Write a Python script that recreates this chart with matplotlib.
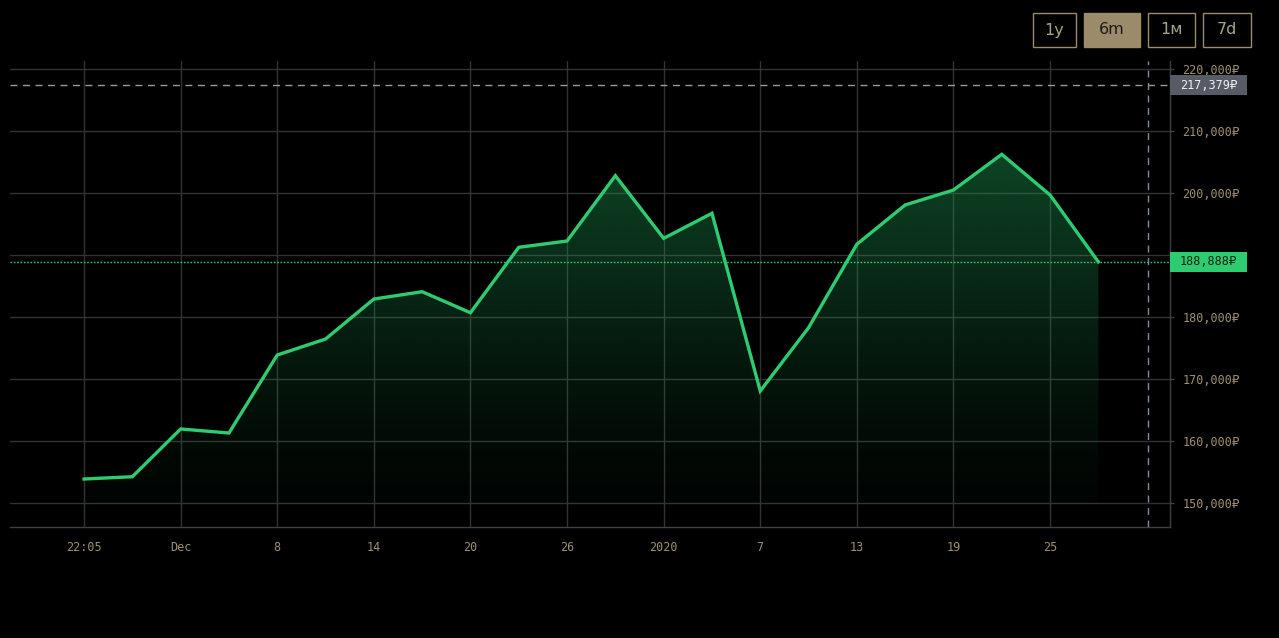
import numpy as np
import matplotlib
matplotlib.use("Agg")
import matplotlib.pyplot as plt
from matplotlib.patches import Rectangle, Polygon

# ---- data ----
days = [0, 3, 6, 9, 12, 15, 18, 21, 24, 27, 30, 33, 36, 39, 42, 45, 48, 51, 54, 57, 60, 63]
prices = [153870, 154240, 161940, 161290, 173870, 176450, 182900, 184080, 180690,
          191240, 192260, 202790, 192690, 196730, 168070, 178270, 191730, 198070,
          200480, 206240, 199680, 188888]
tick_days = [0, 6, 12, 18, 24, 30, 36, 42, 48, 54, 60]
tick_labels = ["22:05", "Dec", "8", "14", "20", "26", "2020", "7", "13", "19", "25"]
y_ticks = [150000, 160000, 170000, 180000, 190000, 200000, 210000, 220000]
crosshair_day = 66.1
crosshair_price = 217379
last_price = 188888
buttons = ["1y", "6m", "1м", "7d"]
active_button = "6m"

# ---- style ----
BG = "#000000"
GRID = "#333333"
SPINE = "#404040"
TICK = "#a08f70"
GREEN = "#2ecc71"
TAN = "#9c8b6a"
MONO = ["DejaVu Sans Mono", "DejaVu Sans"]

W, H = 1279, 638
fig = plt.figure(figsize=(W / 100, H / 100), dpi=100, facecolor=BG)
ax = fig.add_axes([10 / W, 1 - 527 / H, (1170 - 10) / W, (527 - 61) / H])
ax.set_facecolor(BG)

xmin, xmax = -4.6, 67.45
ymin, ymax = 146130, 221290
ax.set_xlim(xmin, xmax)
ax.set_ylim(ymin, ymax)

# grid
ax.set_axisbelow(True)
for d in tick_days:
    ax.axvline(d, color=GRID, lw=1.0, zorder=0)
for v in y_ticks:
    ax.axhline(v, color=GRID, lw=1.0, zorder=0)

# gradient fill
base = 150000
poly_xy = [(days[0], base)] + list(zip(days, prices)) + [(days[-1], base)]
poly = Polygon(poly_xy, closed=True, facecolor="none", edgecolor="none")
ax.add_patch(poly)
top = max(prices)
n = 256
grad = np.zeros((n, 1, 4))
t = np.linspace(0, 1, n)  # 0 bottom -> 1 top
grad[:, 0, 0] = 0.12
grad[:, 0, 1] = 0.60
grad[:, 0, 2] = 0.33
grad[:, 0, 3] = 0.03 + 0.42 * t ** 1.3
img = ax.imshow(grad, extent=[days[0], days[-1], base, top], origin="lower",
                aspect="auto", zorder=1, interpolation="bilinear")
img.set_clip_path(poly)

# line
ax.plot(days, prices, color=GREEN, lw=2.4, zorder=3, solid_joinstyle="miter")

# last price dotted line
ax.axhline(last_price, color=GREEN, lw=1.0, ls=(0, (1.2, 1.2)), zorder=2)

# crosshair
ax.axhline(crosshair_price, color="#9a9a9a", lw=1.0, ls=(0, (5, 4)), zorder=2)
ax.axvline(crosshair_day, color="#7f8da0", lw=1.0, ls=(0, (5, 4)), zorder=2)

# spines
for s in ["top", "left"]:
    ax.spines[s].set_visible(False)
for s in ["bottom", "right"]:
    ax.spines[s].set_color(SPINE)
    ax.spines[s].set_linewidth(1.0)

# ticks
ax.set_xticks(tick_days)
ax.set_xticklabels(tick_labels)
ax.tick_params(axis="x", length=0, pad=10, labelcolor=TICK, labelsize=8.5)
ax.yaxis.tick_right()
ax.set_yticks(y_ticks)
ax.set_yticklabels([f"{v:,}₽" for v in y_ticks])
ax.tick_params(axis="y", length=3, width=1, color=SPINE, pad=6, labelcolor=TICK, labelsize=8.5)
for lab in ax.get_xticklabels() + ax.get_yticklabels():
    lab.set_family(MONO)
for lab, v in zip(ax.get_yticklabels(), y_ticks):
    if v == 190000:
        lab.set_visible(False)

# price boxes on right axis
def price_box(value, face, textcolor):
    pos = ax.get_position()
    fy = pos.y0 + (value - ymin) / (ymax - ymin) * pos.height
    bh = 20 / H
    fig.patches.append(Rectangle((1170 / W, fy - bh / 2), 77 / W, bh,
                                 transform=fig.transFigure, facecolor=face,
                                 edgecolor="none", zorder=5))
    fig.text(1180 / W, fy, f"{value:,}₽", color=textcolor, fontsize=8.5,
             family=MONO, va="center", ha="left", zorder=6)

price_box(crosshair_price, "#565b66", "#f0f0f0")
price_box(last_price, GREEN, "#0b2416")

# buttons
btn_x = [1033, 1084, 1148, 1203]
btn_w = [43, 56, 47, 48]
for label, bx, bw in zip(buttons, btn_x, btn_w):
    active = label == active_button
    fig.patches.append(Rectangle((bx / W, 1 - 47 / H), bw / W, 34 / H,
                                 transform=fig.transFigure,
                                 facecolor=TAN if active else BG,
                                 edgecolor=TAN, lw=1.0))
    fig.text((bx + bw / 2) / W, 1 - 30 / H, label, ha="center", va="center",
             fontsize=11.5, color="#1a1a1a" if active else "#a8a48c",
             family=["DejaVu Sans"])

fig.savefig("out.png", dpi=100, facecolor=BG)
